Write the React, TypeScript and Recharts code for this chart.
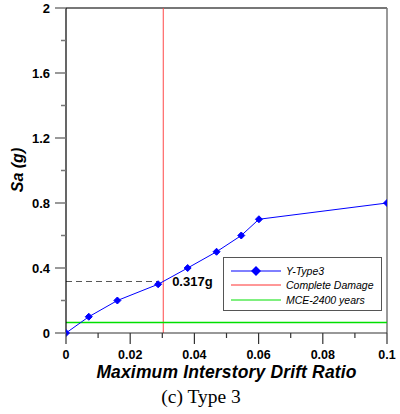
import React from 'react';
import { LineChart, Line, XAxis, YAxis, ReferenceLine, ReferenceDot, Legend } from 'recharts';

const driftRatio = [0, 0.0071, 0.016, 0.0287, 0.0379, 0.0469, 0.0546, 0.0601, 0.1];
const saValues = [0, 0.1, 0.2, 0.3, 0.4, 0.5, 0.6, 0.7, 0.8];
const xTicks = [0, 0.01, 0.02, 0.03, 0.04, 0.05, 0.06, 0.07, 0.08, 0.09, 0.1];
const yTicks = [0, 0.2, 0.4, 0.6, 0.8, 1.0, 1.2, 1.4, 1.6, 1.8, 2.0];
const completeDamageDrift = 0.0303;
const mceSa = 0.064;
const markedSa = 0.317;
const markedDrift = 0.0287;
const seriesNames = ['Y-Type3', 'Complete Damage', 'MCE-2400 years'];

const data = driftRatio.map((x, i) => ({ x, y: saValues[i] }));

const FONT = '"Liberation Sans", Arial, sans-serif';

const Diamond = (props: any) => {
  const { cx, cy } = props;
  if (cx == null || cy == null) return null;
  const s = 3.5;
  return <polygon points={`${cx},${cy - s} ${cx + s},${cy} ${cx},${cy + s} ${cx - s},${cy}`} fill="#0000ff" stroke="#0000ff" />;
};

const YTick = (props: any) => {
  const { x, y, payload } = props;
  const v = payload.value;
  const major = Math.round(v * 10) % 4 === 0;
  const label = v === 0 ? '0' : v === 2 ? '2' : v.toFixed(1);
  return (
    <g>
      <line x1={x - (major ? 11 : 5)} x2={x} y1={y} y2={y} stroke="#777" strokeWidth={1.5} />
      {major && (
        <text x={x - 16} y={y} textAnchor="end" dominantBaseline="central" fontFamily={FONT} fontWeight="bold" fontSize={13} fill="#000">
          {label}
        </text>
      )}
    </g>
  );
};

const XTick = (props: any) => {
  const { x, y, payload } = props;
  const v = payload.value;
  const major = Math.round(v * 100) % 2 === 0;
  const label = v === 0 ? '0' : v === 0.1 ? '0.1' : v.toFixed(2);
  return (
    <g>
      <line x1={x} x2={x} y1={y} y2={y + (major ? 11 : 5)} stroke="#333" strokeWidth={1.2} />
      {major && (
        <text x={x} y={y + 22} textAnchor="middle" dominantBaseline="central" fontFamily={FONT} fontWeight="bold" fontSize={12.5} fill="#000">
          {label}
        </text>
      )}
    </g>
  );
};

const LegendBox = () => (
  <div style={{ width: 159, height: 54, border: '1px solid #555', boxSizing: 'border-box', background: '#fff' }}>
    <svg width={157} height={52} style={{ display: 'block' }}>
      <line x1={7} x2={57} y1={13} y2={13} stroke="#0000ff" strokeWidth={1} />
      <polygon points="32,8 37,13 32,18 27,13" fill="#0000ff" />
      <text x={62} y={13} dominantBaseline="central" fontFamily={FONT} fontStyle="italic" fontSize={10.5} fill="#000">{seriesNames[0]}</text>
      <line x1={7} x2={57} y1={27} y2={27} stroke="#ff3030" strokeWidth={1} />
      <text x={62} y={27} dominantBaseline="central" fontFamily={FONT} fontStyle="italic" fontSize={10.5} fill="#000">{seriesNames[1]}</text>
      <line x1={7} x2={57} y1={42} y2={42} stroke="#00e000" strokeWidth={1} />
      <text x={62} y={42} dominantBaseline="central" fontFamily={FONT} fontStyle="italic" fontSize={10.5} fill="#000">{seriesNames[2]}</text>
    </svg>
  </div>
);

const XLabel = (props: any) => {
  const vb = props.viewBox || { x: 66, y: 333, width: 321 };
  const cx = vb.x + vb.width / 2;
  return (
    <g>
      <text x={cx} y={vb.y + 45} textAnchor="middle" fontFamily={FONT} fontWeight="bold" fontStyle="italic" fontSize={17.5} letterSpacing={0.15} fill="#000">
        Maximum Interstory Drift Ratio
      </text>
      <text x={201} y={vb.y + 70} textAnchor="middle" fontFamily='"Liberation Serif", "Times New Roman", serif' fontSize={19.5} fill="#000">
        (c) Type 3
      </text>
    </g>
  );
};

const YLabel = () => (
  <text x={17} y={170} transform="rotate(-90 17 170)" textAnchor="middle" dominantBaseline="central" fontFamily={FONT} fontWeight="bold" fontStyle="italic" fontSize={16} fill="#000">
    Sa (g)
  </text>
);

export default function App() {
  return (
    <div style={{ position: 'absolute', left: 0, top: 0, width: 400, height: 414, background: '#fff' }}>
      <LineChart width={400} height={414} data={data} margin={{ top: 8, right: 13, left: 0, bottom: 0 }}>
        <XAxis
          dataKey="x"
          type="number"
          domain={[0, 0.1]}
          ticks={xTicks}
          interval={0}
          allowDataOverflow
          height={81}
          tickSize={0}
          tickMargin={0}
          tick={<XTick />}
          stroke="#333"
          strokeWidth={1.2}
          label={<XLabel />}
        />
        <YAxis
          type="number"
          domain={[0, 2]}
          ticks={yTicks}
          interval={0}
          width={66}
          tickSize={0}
          tickMargin={0}
          tick={<YTick />}
          stroke="#000"
          strokeWidth={1.2}
          label={<YLabel />}
        />
        <ReferenceLine y={2} stroke="#777" strokeWidth={2} ifOverflow="extendDomain" />
        <ReferenceLine x={0.1} stroke="#777" strokeWidth={1.5} />
        <ReferenceLine x={completeDamageDrift} stroke="#ff4848" strokeWidth={1} />
        <ReferenceLine y={mceSa} stroke="#00e000" strokeWidth={1.5} />
        <ReferenceLine
          segment={[{ x: 0, y: markedSa }, { x: markedDrift, y: markedSa }]}
          stroke="#555"
          strokeWidth={1}
          strokeDasharray="6 4"
        />
        <ReferenceDot
          x={markedDrift}
          y={markedSa}
          r={0}
          stroke="none"
          label={{ value: `${markedSa}g`, position: 'right', offset: 14, fontFamily: FONT, fontWeight: 'bold', fontSize: 13, fill: '#000' }}
        />
        <Line
          dataKey="y"
          name={seriesNames[0]}
          stroke="#0000ff"
          strokeWidth={1}
          dot={<Diamond />}
          activeDot={false}
          isAnimationActive={false}
        />
        <Legend
          layout="vertical"
          align="center"
          verticalAlign="middle"
          content={<LegendBox />}
          wrapperStyle={{ position: 'absolute', left: 223, top: 257, width: 159, height: 54 }}
        />
      </LineChart>
    </div>
  );
}
